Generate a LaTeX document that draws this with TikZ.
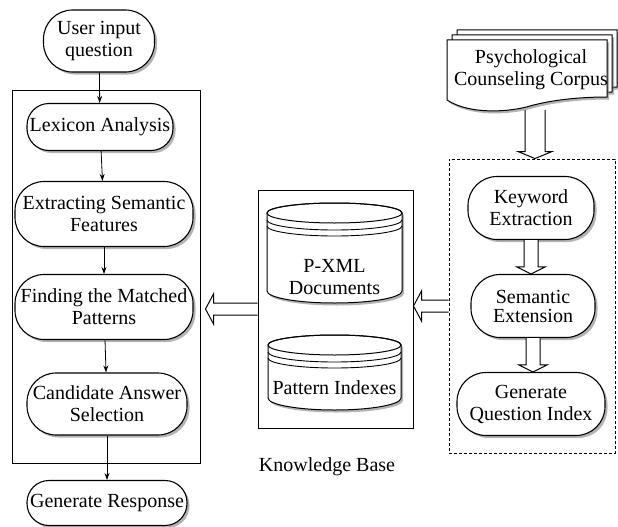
\documentclass[tikz,border=0pt]{standalone}
\usepackage{fontspec}
\setmainfont{Liberation Serif}
\usetikzlibrary{shadows,calc,arrows.meta}
\newcommand\dbcyl[4]{%
  \draw[fill=white, line width=1pt, drop shadow={shadow xshift=2pt,shadow yshift=-2.5pt,opacity=0.6}]
    (#1-#4,-#2-10) -- (#1-#4,-#3+12) arc[start angle=180,end angle=360,x radius=#4,y radius=12]
    -- (#1+#4,-#2-10) arc[start angle=0,end angle=180,x radius=#4,y radius=10] -- cycle;
  \draw[line width=1pt] (#1,-#2-10) ellipse [x radius=#4, y radius=10];
  \draw[line width=0.9pt] (#1-#4,-#2-17) arc[start angle=180,end angle=360,x radius=#4,y radius=10];
  \draw[line width=0.9pt] (#1-#4,-#2-23) arc[start angle=180,end angle=360,x radius=#4,y radius=10];
}
\newcommand\hollowleft[3]{% tail node, tip node, gap
  \draw[hollow] let \p1=(#1.west), \p2=(#2.east) in
    (\x1,\y1+6pt) -- (\x2+#3pt+8pt,\y1+6pt) -- (\x2+#3pt+8pt,\y1+15pt) -- (\x2+#3pt,\y1)
    -- (\x2+#3pt+8pt,\y1-15pt) -- (\x2+#3pt+8pt,\y1-6pt) -- (\x1,\y1-6pt);
}
\newcommand\hollowdown[3]{% tail node/coord, tip node, shaft half width
  \draw[hollow] let \p1=(#1), \p2=(#2.north) in
    (\x1-#3pt,\y1) -- (\x1-#3pt,\y2+7pt) -- (\x1-#3pt-7pt,\y2+7pt) -- (\x1,\y2)
    -- (\x1+#3pt+7pt,\y2+7pt) -- (\x1+#3pt,\y2+7pt) -- (\x1+#3pt,\y1);
}
\begin{document}
\begin{tikzpicture}[x=1pt,y=1pt,
  font=\fontsize{20}{22}\selectfont,
  pill/.style={rectangle, rounded corners=22pt, draw, line width=1.1pt, fill=white,
    align=center, inner sep=0pt,
    drop shadow={shadow xshift=2.5pt,shadow yshift=-2.5pt,opacity=0.6}},
  tall/.style={rounded corners=29pt},
  frame/.style={draw, line width=1pt, inner sep=0pt},
  arr/.style={-{Stealth[length=7pt,width=5pt]}, line width=0.8pt},
  hollow/.style={line width=1pt, fill=white},
  sheet/.style={draw, line width=1pt, fill=white},
]
\useasboundingbox (0,0) rectangle (618,-527);

% frames
\node[frame, minimum width=188, minimum height=373] (lbox) at (106,-276.5) {};
\node[frame, minimum width=155, minimum height=238] (kb) at (335.5,-309) {};
\node[frame, densely dashed, line width=0.9pt, minimum width=166, minimum height=294] (rbox) at (532,-306) {};

% left column
\node[pill, tall, minimum width=111, minimum height=62] (uiq) at (99,-41) {User input\\question};
\node[pill, minimum width=146, minimum height=47] (lex) at (100,-127) {Lexicon Analysis};
\node[pill, tall, minimum width=178, minimum height=65] (ext) at (104,-214) {Extracting Semantic\\Features};
\node[pill, tall, minimum width=178, minimum height=65] (fmp) at (104,-307) {Finding the Matched\\Patterns};
\node[pill, tall, minimum width=160, minimum height=62] (cas) at (107,-404) {Candidate Answer\\Selection};
\node[pill, minimum width=160, minimum height=45] (gr) at (107,-503) {Generate Response};

\draw[arr] (uiq) -- (lex);
\draw[arr] (lex) -- (ext);
\draw[arr] (ext) -- (fmp);
\draw[arr] (fmp) -- (cas);
\draw[arr] (cas) -- (gr);

% knowledge base
\dbcyl{334.5}{203}{303}{67.5}
\node[align=center] (pxml) at (334.5,-277) {P-XML\\Documents};
\dbcyl{334.5}{335}{410}{66.5}
\node (pidx) at (334.5,-388) {Pattern Indexes};
\node (kblabel) at (327,-467) {Knowledge Base};

% corpus document
\foreach \d in {10,5,0} {
  \draw[sheet, drop shadow={shadow xshift=2pt,shadow yshift=-2.5pt,opacity=0.6}]
    (447+\d,-40+\d) -- (607+\d,-40+\d) -- (607+\d,-97+\d)
    .. controls (585+\d,-97+\d) and (555+\d,-99+\d) .. (530+\d,-106+\d)
    .. controls (510+\d,-112+\d) and (470+\d,-115+\d) .. (447+\d,-100+\d) -- cycle;
}
\node[align=center] (corpus) at (531,-70) {Psychological\\Counseling Corpus};
\coordinate (corpusbot) at (535,-110);

% right column
\node[pill, tall, minimum width=126, minimum height=63] (kw) at (531,-208) {Keyword\\Extraction};
\node[pill, tall, minimum width=124, minimum height=63] (se) at (533,-306) {Semantic\\[-3pt]Extension};
\node[pill, tall, minimum width=148, minimum height=63] (gqi) at (531,-404) {Generate\\Question Index};

% hollow arrows
\hollowdown{corpusbot}{rbox}{10}
\hollowdown{kw.south}{se}{7}
\hollowdown{se.south}{gqi}{7}
\hollowleft{kb}{lbox}{5}
\hollowleft{rbox}{kb}{0}
\end{tikzpicture}
\end{document}
